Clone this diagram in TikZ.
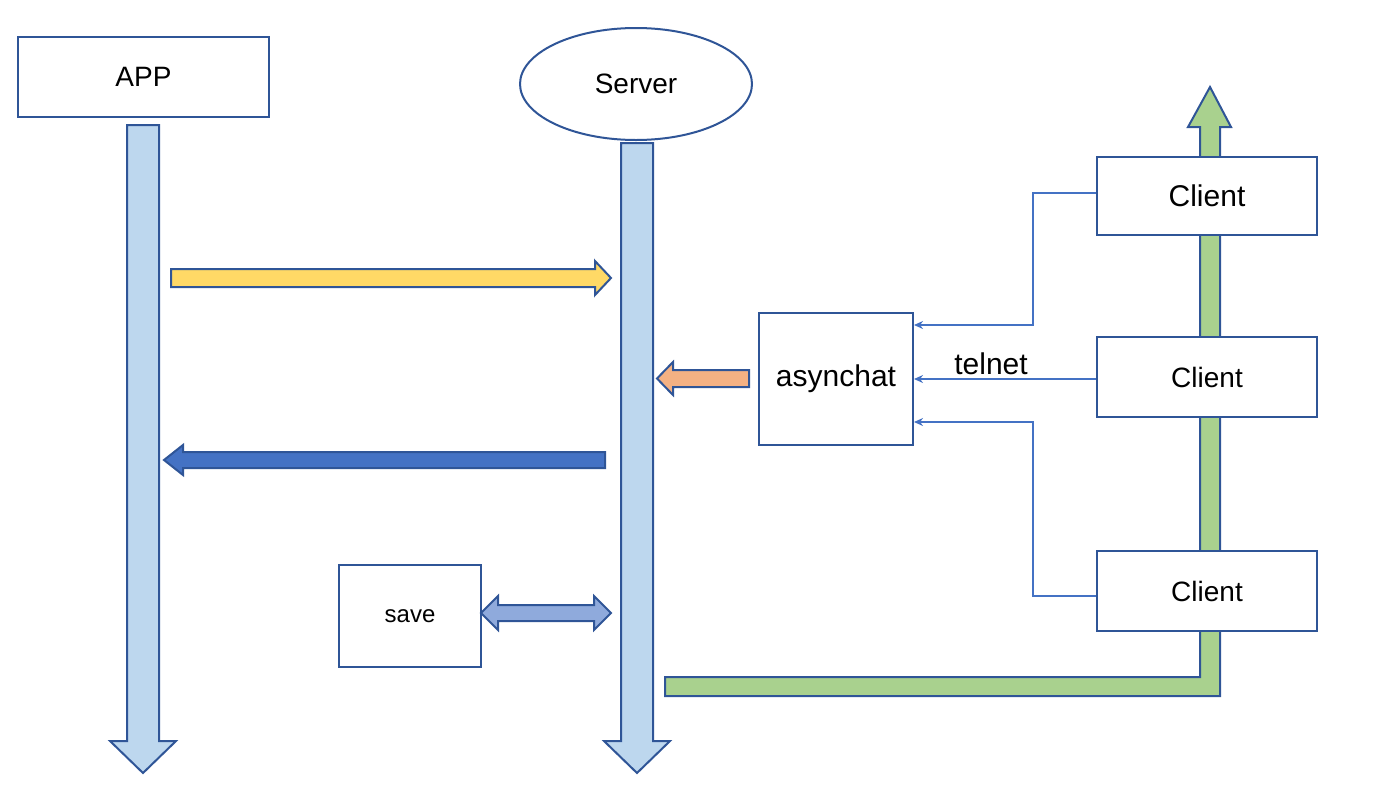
\documentclass[tikz,border=0pt]{standalone}
\usepackage{fontspec}
\setmainfont{Liberation Sans}
\usetikzlibrary{arrows.meta,calc,shapes.geometric}
\definecolor{edge}{HTML}{2F5597}
\definecolor{life}{HTML}{BDD7EE}
\definecolor{yel}{HTML}{FFD966}
\definecolor{ora}{HTML}{F4B183}
\definecolor{dblue}{HTML}{4472C4}
\definecolor{mblue}{HTML}{8FAADC}
\definecolor{grn}{HTML}{A9D18E}
\tikzset{
  box/.style={draw=edge,line width=2pt,fill=white,rectangle,inner sep=0pt},
  blockarrow/.style={draw=edge,line width=2pt,line join=miter},
  conn/.style={draw=dblue,line width=1.5pt,-{Stealth[length=9pt,width=8pt]}},
  lbl/.style={inner sep=0pt}
}
\begin{document}
\begin{tikzpicture}[x=1pt,y=-1pt]
\useasboundingbox (0,0) rectangle (1388,790);
% lifelines
\draw[blockarrow,fill=life] (127,125) -- (159,125) -- (159,741) -- (176,741) -- (143,773) -- (110,741) -- (127,741) -- cycle;
\draw[blockarrow,fill=life] (621,143) -- (653,143) -- (653,741) -- (670,741) -- (637,773) -- (604,741) -- (621,741) -- cycle;
% green arrow
\draw[blockarrow,fill=grn] (665,677) -- (1200,677) -- (1200,127) -- (1188,127) -- (1210,87) -- (1231,127) -- (1220,127) -- (1220,696) -- (665,696) -- cycle;
% nodes
\node[box,minimum width=251pt,minimum height=80pt] (app) at (143.5,77) {\fontsize{28}{34}\selectfont APP};
\node[draw=edge,line width=2pt,fill=white,ellipse,minimum width=232pt,minimum height=112pt,inner sep=0pt] (server) at (636,84) {\fontsize{28}{34}\selectfont Server};
\node[box,minimum width=154pt,minimum height=132pt] (asyn) at (836,379) {\fontsize{30}{36}\selectfont asynchat};
\node[box,minimum width=142pt,minimum height=102pt] (save) at (410,616) {\fontsize{24}{30}\selectfont save};
\node[box,minimum width=220pt,minimum height=78pt] (c1) at (1207,196) {\fontsize{30}{36}\selectfont Client};
\node[box,minimum width=220pt,minimum height=80pt] (c2) at (1207,377) {\fontsize{28}{34}\selectfont Client};
\node[box,minimum width=220pt,minimum height=80pt] (c3) at (1207,591) {\fontsize{28}{34}\selectfont Client};
\node[lbl] (telnet) at (991,364) {\fontsize{30}{36}\selectfont telnet};
% block arrows
\draw[blockarrow,fill=yel] (171,269) -- (595,269) -- (595,261) -- (611,278) -- (595,295) -- (595,287) -- (171,287) -- cycle;
\draw[blockarrow,fill=ora] (749,370) -- (673,370) -- (673,362) -- (657,378.5) -- (673,395) -- (673,387) -- (749,387) -- cycle;
\draw[blockarrow,fill=dblue] (605,452) -- (183,452) -- (183,445) -- (164,460) -- (183,475) -- (183,468) -- (605,468) -- cycle;
\draw[blockarrow,fill=mblue] (498,605) -- (594,605) -- (594,596) -- (611,613) -- (594,630) -- (594,621) -- (498,621) -- (498,630) -- (481,613) -- (498,596) -- cycle;
% connectors
\coordinate (k1) at (1033,193);
\coordinate (k3) at (1033,596);
\draw[conn] (c1.west |- k1) -- (k1) |- ([yshift=54pt]asyn.east);
\draw[conn] (c2.west |- 0,379) -- (asyn.east);
\draw[conn] (c3.west |- k3) -- (k3) |- ([yshift=-43pt]asyn.east);
\end{tikzpicture}
\end{document}
